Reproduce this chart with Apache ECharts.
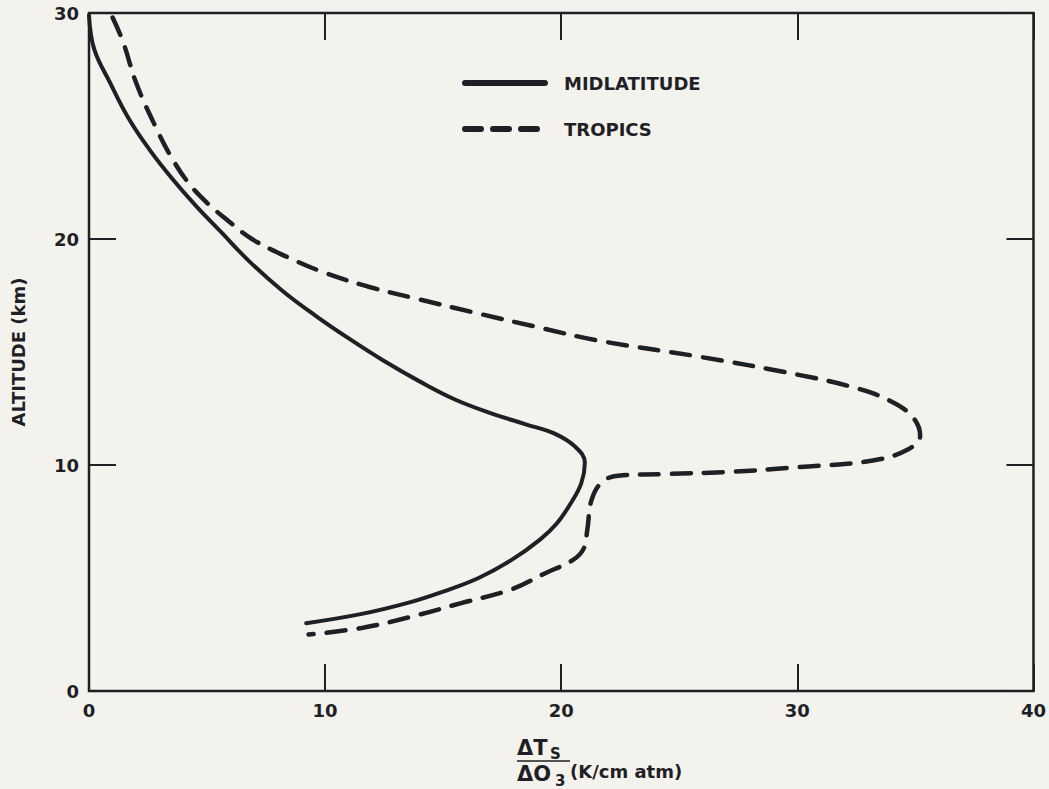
<!DOCTYPE html>
<html>
<head>
<meta charset="utf-8">
<title>Altitude sensitivity</title>
<script src="https://cdn.jsdelivr.net/npm/echarts@6/dist/echarts.min.js"></script>
<style>
  html, body { margin: 0; padding: 0; background: #f4f2ec; }
  #chart { width: 1049px; height: 789px; }
</style>
</head>
<body>
<div id="chart"></div>
<script>
// values: dTs/dO3 (K/cm atm) against altitude (km)
const midlatitudeDT = [0, 0.22, 0.9, 1.7, 2.6, 3.5, 4.5, 5.6, 6.8, 8.2, 9.6, 11.0, 12.5, 14.0, 15.5, 17.0, 18.5, 19.7, 20.6, 21.0, 20.85, 20.4, 19.8, 19.1, 17.9, 16.5, 15.0, 13.5, 11.5, 9.2];
const midlatitudeAlt = [29.9, 28.4, 26.9, 25.3, 23.9, 22.7, 21.5, 20.3, 19.0, 17.7, 16.6, 15.6, 14.6, 13.7, 12.9, 12.3, 11.8, 11.4, 10.8, 10.1, 9.2, 8.3, 7.4, 6.7, 5.8, 5.0, 4.4, 3.9, 3.4, 3.0];

const tropicsDT = [1.0, 1.45, 2.0, 2.85, 3.5, 4.2, 5.0, 5.9, 6.9, 8.4, 10.0, 11.8, 13.7, 16.5, 19.0, 21.6, 25.8, 30.0, 32.5, 34.0, 34.9, 35.2, 34.7, 33.2, 30.0, 27.2, 24.4, 22.6, 21.8, 21.3, 21.1, 20.95, 20.5, 19.3, 17.9, 15.8, 13.7, 11.6, 9.3];
const tropicsAlt = [29.8, 28.7, 26.9, 24.9, 23.6, 22.5, 21.6, 20.8, 20.0, 19.2, 18.5, 17.9, 17.4, 16.7, 16.1, 15.5, 14.8, 14.0, 13.4, 12.8, 12.1, 11.3, 10.7, 10.2, 9.9, 9.7, 9.6, 9.55, 9.3, 8.5, 7.1, 6.3, 5.8, 5.2, 4.5, 3.9, 3.3, 2.8, 2.5];

const seriesNames = ['MIDLATITUDE', 'TROPICS'];

const ink = '#1f1f26';
const font = '"DejaVu Sans", "Liberation Sans", sans-serif';

const zip = (xs, ys) => xs.map((x, i) => [x, ys[i]]);

const chart = echarts.init(document.getElementById('chart'), null, { renderer: 'svg' });

const tickStyle = { show: true, inside: true, length: 27, lineStyle: { color: ink, width: 2 } };
const labelStyle = { color: ink, fontFamily: font, fontWeight: 'bold', fontSize: 18, margin: 10 };
const hiddenLine = { show: false, onZero: false };

const option = {
  backgroundColor: '#f4f2ec',
  animation: false,
  grid: {
    left: 89, right: 13, top: 13, bottom: 98,
    show: true, borderColor: ink, borderWidth: 2.5, backgroundColor: 'transparent'
  },
  legend: {
    orient: 'vertical',
    left: 457,
    top: 69,
    itemWidth: 80,
    itemHeight: 20,
    itemGap: 28,
    itemStyle: { opacity: 0 },
    lineStyle: { width: 6 },
    data: [
      { name: seriesNames[0] },
      { name: seriesNames[1], lineStyle: { width: 6, type: [16, 12], cap: 'round' } }
    ],
    textStyle: { color: ink, fontFamily: font, fontWeight: 'bold', fontSize: 18, padding: [0, 0, 0, 14] }
  },
  xAxis: [
    {
      type: 'value', min: 0, max: 40, interval: 10, position: 'bottom',
      axisLine: hiddenLine, splitLine: { show: false },
      axisTick: tickStyle, axisLabel: labelStyle
    },
    {
      type: 'value', min: 0, max: 40, interval: 10, position: 'top',
      axisLine: hiddenLine, splitLine: { show: false },
      axisTick: tickStyle, axisLabel: { show: false }
    }
  ],
  yAxis: [
    {
      type: 'value', min: 0, max: 30, interval: 10, position: 'left',
      name: 'ALTITUDE (km)', nameLocation: 'middle', nameGap: 62, nameRotate: 90,
      nameTextStyle: { color: ink, fontFamily: font, fontWeight: 'bold', fontSize: 18 },
      axisLine: hiddenLine, splitLine: { show: false },
      axisTick: tickStyle, axisLabel: labelStyle
    },
    {
      type: 'value', min: 0, max: 30, interval: 10, position: 'right',
      axisLine: hiddenLine, splitLine: { show: false },
      axisTick: tickStyle, axisLabel: { show: false }
    }
  ],
  series: [
    {
      name: seriesNames[0], type: 'line', smooth: 0.4,
      symbol: 'none', showSymbol: false,
      data: zip(midlatitudeDT, midlatitudeAlt),
      lineStyle: { color: ink, width: 4, cap: 'round' },
      itemStyle: { color: ink }
    },
    {
      name: seriesNames[1], type: 'line', smooth: 0.4,
      symbol: 'none', showSymbol: false,
      data: zip(tropicsDT, tropicsAlt),
      lineStyle: { color: ink, width: 4.5, type: [19, 13], cap: 'round' },
      itemStyle: { color: ink }
    }
  ],
  graphic: [
    { type: 'text', x: 517, y: 748, style: { text: 'ΔT', fill: ink, font: 'bold 21px ' + font, verticalAlign: 'middle' } },
    { type: 'text', x: 550, y: 754, style: { text: 'S', fill: ink, font: 'bold 15px ' + font, verticalAlign: 'middle' } },
    { type: 'line', shape: { x1: 517, y1: 761, x2: 570, y2: 761 }, style: { stroke: ink, lineWidth: 1.5 } },
    { type: 'text', x: 517, y: 774, style: { text: 'ΔO', fill: ink, font: 'bold 21px ' + font, verticalAlign: 'middle' } },
    { type: 'text', x: 555, y: 781, style: { text: '3', fill: ink, font: 'bold 15px ' + font, verticalAlign: 'middle' } },
    { type: 'text', x: 570, y: 771, style: { text: '(K/cm atm)', fill: ink, font: 'bold 18px ' + font, verticalAlign: 'middle' } }
  ]
};

chart.setOption(option);
</script>
</body>
</html>
